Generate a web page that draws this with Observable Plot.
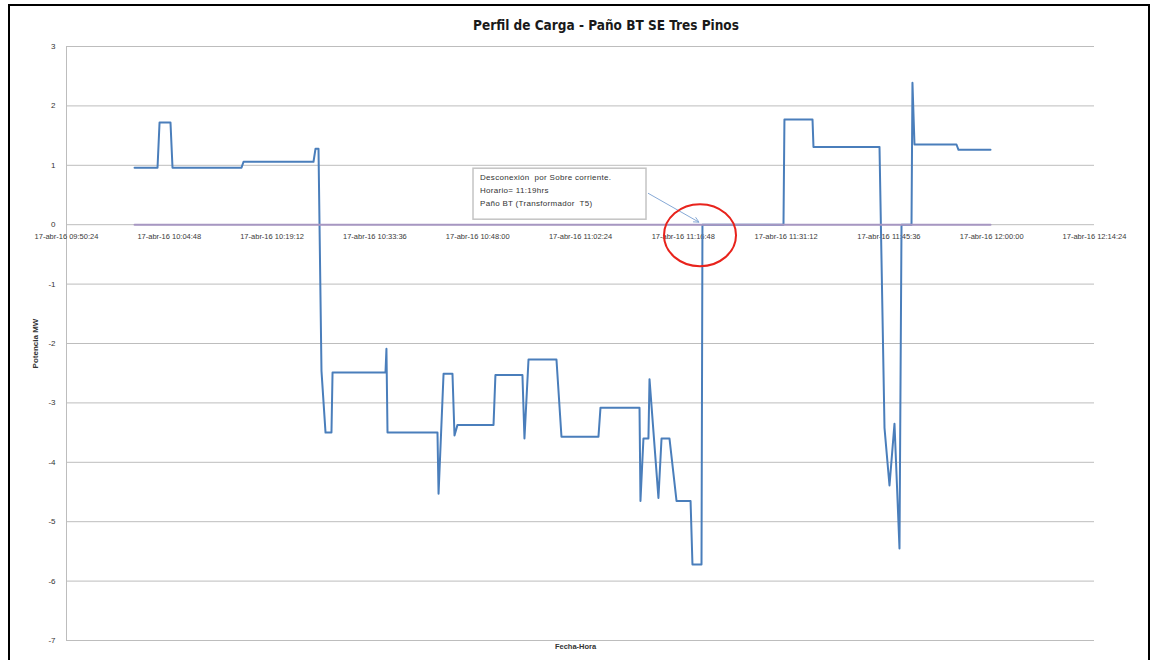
<!DOCTYPE html>
<html>
<head>
<meta charset="utf-8">
<script src="https://cdn.jsdelivr.net/npm/d3@7"></script>
<script src="https://cdn.jsdelivr.net/npm/@observablehq/plot@0.6"></script>
<style>
  html, body { margin: 0; padding: 0; background: #fff; width: 1152px; height: 660px; overflow: hidden; }
  #frame { position: absolute; left: 8px; top: 4px; width: 1138px; height: 700px; border: 2px solid #000; pointer-events: none; }
  #title { height: 40px; box-sizing: border-box; padding-top: 18px; padding-left: 60px; text-align: center;
           font: bold 13.5px "Liberation Sans Narrow", "DejaVu Sans Condensed", "Liberation Sans", Arial, sans-serif; line-height: 15px; color: #1a1a1a; }
  #chart svg { display: block; }
</style>
</head>
<body>
<div id="title">Perfil de Carga - Paño BT SE Tres Pinos</div>
<div id="chart"></div>
<div id="frame"></div>
<script>
// ---- data (17-abr-16) ----
const times = [
  "09:59:56","10:03:09","10:03:26","10:04:58","10:05:15","10:14:55","10:15:12","10:25:00","10:25:17","10:25:42",
  "10:26:07","10:26:41","10:27:31","10:27:40","10:35:05","10:35:13","10:35:22","10:42:22","10:42:31","10:43:13",
  "10:44:28","10:44:45","10:45:10","10:50:13","10:50:29","10:54:16","10:54:33","10:55:07","10:59:02","10:59:44",
  "11:04:55","11:05:12","11:10:40","11:10:48","11:11:13","11:11:55","11:12:04","11:13:19","11:13:45","11:14:52",
  "11:15:51","11:17:49","11:18:05","11:19:21","11:19:29","11:30:50","11:30:58","11:34:54","11:35:02","11:44:17",
  "11:44:59","11:45:41","11:46:23","11:47:05","11:47:22","11:48:46","11:48:54","11:49:11","11:55:04","11:55:21",
  "11:59:50"
];
const potenciaMW = [
  0.96, 0.96, 1.72, 1.72, 0.96, 0.96, 1.06, 1.06, 1.28, 1.28,
  -2.46, -3.50, -3.50, -2.49, -2.49, -2.09, -3.50, -3.50, -4.53, -2.51,
  -2.51, -3.55, -3.37, -3.37, -2.53, -2.53, -3.60, -2.27, -2.27, -3.57,
  -3.57, -3.08, -3.08, -4.65, -3.60, -3.60, -2.60, -4.60, -3.60, -3.60,
  -4.65, -4.65, -5.72, -5.72, 0.00, 0.00, 1.77, 1.77, 1.31, 1.31,
  -3.42, -4.39, -3.35, -5.45, 0.00, 0.00, 2.39, 1.35, 1.35, 1.26,
  1.26
];
const referencia = times.map(() => 0);

const xTickLabels = ["09:50:24","10:04:48","10:19:12","10:33:36","10:48:00","11:02:24","11:16:48","11:31:12","11:45:36","12:00:00","12:14:24"];
const yTicks = [3, 2, 1, 0, -1, -2, -3, -4, -5, -6, -7];
const datePrefix = "17-abr-16 ";

const eventTime = "11:19:21";
const eventLines = ["Desconexión  por Sobre corriente.", "Horario= 11:19hrs", "Paño BT (Transformador  T5)"];

// ---- helpers ----
const toDate = s => { const [h, m, sec] = s.split(":").map(Number); return new Date(Date.UTC(2016, 3, 17, h, m, sec)); };
const serie = times.map((t, i) => ({t: toDate(t), v: potenciaMW[i]}));
const serie0 = times.map((t, i) => ({t: toDate(t), v: referencia[i]}));
const ticks = xTickLabels.map(s => ({t: toDate(s), label: datePrefix + s}));
const evento = [{t: toDate(eventTime), v: 0}];

const annotation = (index, scales) => {
  const g = d3.create("svg:g");
  const px = scales.x(evento[0].t), py = scales.y(evento[0].v);
  // callout box
  g.append("rect").attr("x", px - 228).attr("y", py - 56).attr("width", 173).attr("height", 51)
    .attr("fill", "#fff").attr("stroke", "#c4c4c4").attr("stroke-width", 1.5);
  const txt = g.append("text").attr("font-size", 8).attr("fill", "#333").attr("letter-spacing", "0.3")
    .attr("text-anchor", "start");
  eventLines.forEach((l, i) => txt.append("tspan").attr("x", px - 221).attr("y", py - 44 + i * 13).attr("xml:space", "preserve").text(l));
  // arrow
  const x1 = px - 53, y1 = py - 31, x2 = px - 2, y2 = py - 2;
  g.append("line").attr("x1", x1).attr("y1", y1).attr("x2", x2).attr("y2", y2).attr("stroke", "#86a9d6").attr("stroke-width", 1);
  const ang = Math.atan2(y2 - y1, x2 - x1), L = 6;
  g.append("path")
    .attr("d", `M${x2 - L * Math.cos(ang - 0.45)},${y2 - L * Math.sin(ang - 0.45)}L${x2},${y2}L${x2 - L * Math.cos(ang + 0.45)},${y2 - L * Math.sin(ang + 0.45)}`)
    .attr("fill", "none").attr("stroke", "#86a9d6").attr("stroke-width", 1);
  // red ellipse
  g.append("ellipse").attr("cx", px - 1).attr("cy", py + 11).attr("rx", 36).attr("ry", 31)
    .attr("fill", "none").attr("stroke", "#e8231c").attr("stroke-width", 2);
  return g.node();
};

const chart = Plot.plot({
  width: 1152,
  height: 620,
  marginLeft: 66,
  marginRight: 58,
  marginTop: 6,
  marginBottom: 20,
  style: {fontFamily: '"Liberation Sans Narrow", "Liberation Sans", Arial, sans-serif', fontSize: "8px", color: "#333", background: "#fff"},
  x: {type: "utc", domain: [ticks[0].t, ticks[ticks.length - 1].t], axis: null},
  y: {domain: [-7, 3], axis: null},
  marks: [
    Plot.ruleY(yTicks, {stroke: "#bdbdbd", strokeWidth: 1}),
    Plot.ruleX([ticks[0].t], {stroke: "#bdbdbd", strokeWidth: 1}),
    Plot.text(yTicks, {x: () => ticks[0].t, y: d => d, text: d => String(d), textAnchor: "end", dx: -11, fontSize: 8, fill: "#333"}),
    Plot.text(ticks, {x: "t", y: () => 0, text: "label", dy: 12, fontSize: 7.5, fill: "#3a3a3a"}),
    Plot.line(serie, {x: "t", y: "v", stroke: "#4a7ebb", strokeWidth: 2, strokeLinejoin: "round"}),
    Plot.line(serie0, {x: "t", y: "v", stroke: "#a797c2", strokeWidth: 2}),
    annotation,
    Plot.text(["Potencia MW"], {x: () => ticks[0].t, y: () => -2, rotate: -90, dx: -31, fontSize: 8, fontWeight: "bold", fill: "#333"}),
    Plot.text(["Fecha-Hora"], {frameAnchor: "bottom", dy: 8, dx: -5, fontSize: 7.5, fontWeight: "bold", fill: "#333"})
  ]
});
document.getElementById("chart").appendChild(chart);
</script>
</body>
</html>
